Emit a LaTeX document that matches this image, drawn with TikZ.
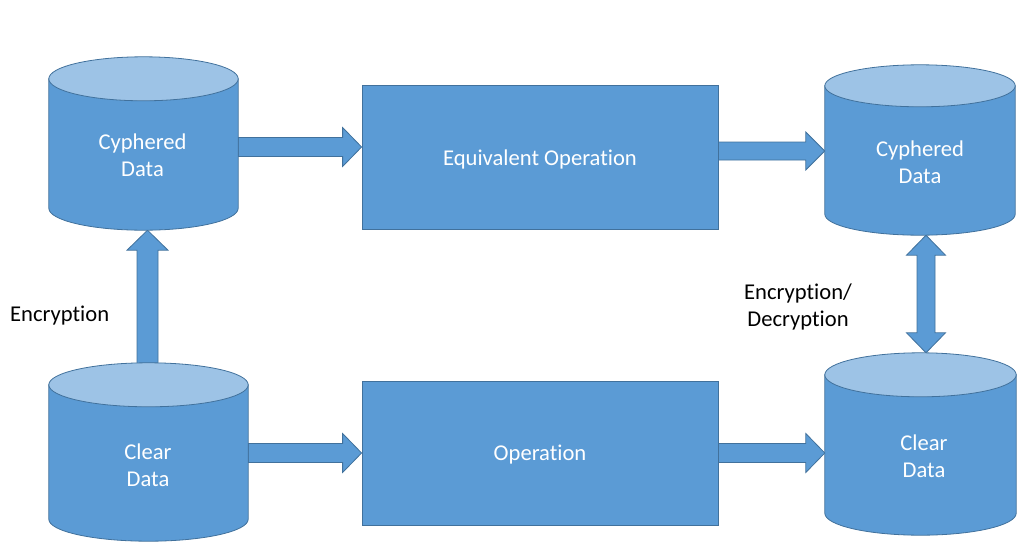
\documentclass[tikz,border=0pt]{standalone}
\usepackage{fontspec}
\setmainfont[Ligatures=NoCommon]{Carlito}
\usetikzlibrary{calc}
\definecolor{dbblue}{HTML}{5B9BD5}
\definecolor{dbtop}{HTML}{9DC3E6}
\definecolor{dbline}{HTML}{41719C}

\tikzset{
  outline/.style={draw=dbline, line width=0.8pt, line join=miter},
  dbzone/.style={rectangle, inner sep=0pt, minimum width=#1},
  dbtext/.style={text=white, align=center, font=\fontsize{22.6}{27}\selectfont},
  procbox/.style={rectangle, outline, fill=dbblue, inner sep=0pt,
    minimum width=356pt, minimum height=144pt, text=white,
    font=\fontsize{22.6}{27}\selectfont},
  blockarrow/.style={outline, fill=dbblue},
  caption/.style={text=black, align=center, inner sep=0pt,
    font=\fontsize{22.6}{27}\selectfont}
}

% database cylinder drawn inside the frame of node #1, end ellipses of half height #2
\newcommand\dbdraw[2]{%
  \path[outline, fill=dbblue] let \p1=(#1.north west), \p2=(#1.south east) in
    (\x1,\y1-#2) -- (\x1,\y2+#2)
    arc[start angle=180, end angle=360, x radius={(\x2-\x1)/2}, y radius=#2]
    -- (\x2,\y1-#2) -- cycle;
  \path[outline, fill=dbtop] let \p1=(#1.north west), \p2=(#1.north east) in
    ([yshift=-#2]#1.north) ellipse[x radius={(\x2-\x1)/2}, y radius=#2];
}

% horizontal block arrow: from, to, shaft half width, head half width, head length
\newcommand\harrow[5]{%
  \path[blockarrow] let \p1=(#1), \p2=(#2) in
    (\x1,\y1+#3) -- (\x2-#5,\y1+#3) -- (\x2-#5,\y1+#4) -- (\x2,\y1)
    -- (\x2-#5,\y1-#4) -- (\x2-#5,\y1-#3) -- (\x1,\y1-#3) -- cycle;
}

% upward block arrow
\newcommand\varrow[5]{%
  \path[blockarrow] let \p1=(#1), \p2=(#2) in
    (\x1-#3,\y1) -- (\x1-#3,\y2-#5) -- (\x1-#4,\y2-#5) -- (\x1,\y2)
    -- (\x1+#4,\y2-#5) -- (\x1+#3,\y2-#5) -- (\x1+#3,\y1) -- cycle;
}

% vertical block arrow with heads at both ends (from the upper to the lower point)
\newcommand\dvarrow[5]{%
  \path[blockarrow] let \p1=(#1), \p2=(#2) in
    (\x1,\y1) -- (\x1+#4,\y1-#5) -- (\x1+#3,\y1-#5) -- (\x1+#3,\y2+#5)
    -- (\x1+#4,\y2+#5) -- (\x1,\y2) -- (\x1-#4,\y2+#5) -- (\x1-#3,\y2+#5)
    -- (\x1-#3,\y1-#5) -- (\x1-#4,\y1-#5) -- cycle;
}

\begin{document}
\begin{tikzpicture}[x=1pt, y=-1pt]
  \useasboundingbox (0,0) rectangle (1017,541);

  % frames of the four data stores
  \node[dbzone=189pt, minimum height=173pt] (cd1) at (143.5,143.5) {};
  \node[dbzone=190pt, minimum height=170pt] (cd2) at (920,150) {};
  \node[dbzone=199pt, minimum height=178pt] (cl1) at (148.5,452) {};
  \node[dbzone=191pt, minimum height=182pt] (cl2) at (920.5,444) {};

  % operations
  \node[procbox] (eq) at (540,157) {};
  \node[procbox] (op) at (540,453) {};
  \node[dbtext] (eqt) at (540,159) {Equivalent Operation};
  \node[dbtext] (opt) at (540,455) {Operation};

  % connectors
  \harrow{cd1.east |- 0,147}{eq.west}{9.5pt}{19.5pt}{19pt}
  \harrow{eq.east |- 0,151}{cd2.west}{9pt}{19pt}{19pt}
  \harrow{cl1.east |- 0,453}{op.west}{9.5pt}{19.5pt}{19pt}
  \harrow{op.east |- 0,453}{cl2.west}{9.5pt}{19.5pt}{19pt}
  \varrow{$(cl1.north)+(-1,4)$}{cd1.south}{10.5pt}{20.5pt}{20pt}
  \dvarrow{$(cd2.south)+(6,0)$}{cl2.north}{9pt}{19.5pt}{20pt}

  % data stores
  \dbdraw{cd1}{22pt}
  \dbdraw{cd2}{21pt}
  \dbdraw{cl1}{22pt}
  \dbdraw{cl2}{22pt}

  \node[dbtext] (cd1t) at (142.5,155) {Cyphered\\Data};
  \node[dbtext] (cd2t) at (920,162.5) {Cyphered\\Data};
  \node[dbtext] (cl1t) at (148,465) {Clear\\Data};
  \node[dbtext] (cl2t) at (924,456) {Clear\\Data};

  % captions
  \node[caption, anchor=west] (enc) at (10,316) {Encryption};
  \node[caption] (encdec) at (798,307) {Encryption/\\Decryption};
\end{tikzpicture}
\end{document}
